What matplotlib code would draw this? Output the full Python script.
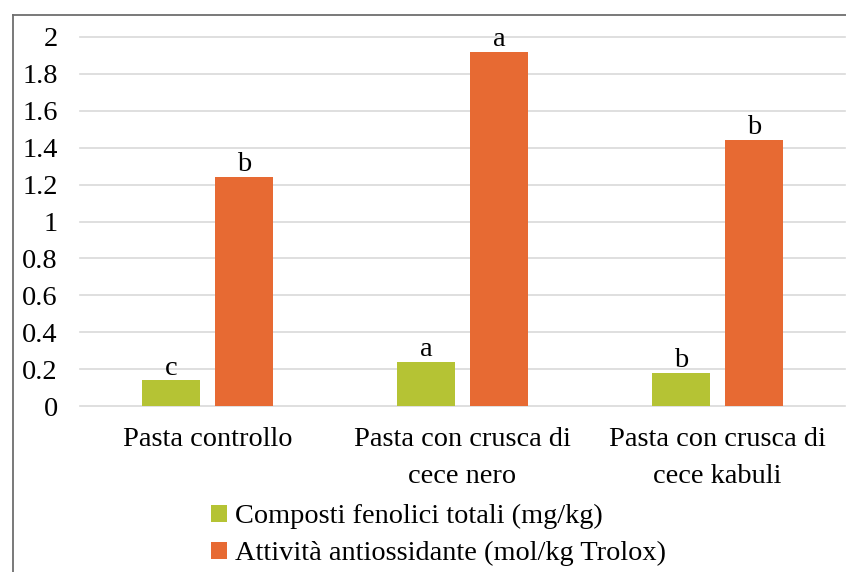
import matplotlib
matplotlib.use("Agg")
import matplotlib.pyplot as plt
import numpy as np
from matplotlib.lines import Line2D

plt.rcParams['font.family'] = ['Liberation Serif', 'DejaVu Serif']

categories = ["Pasta controllo", "Pasta con crusca di\ncece nero", "Pasta con crusca di\ncece kabuli"]
series_names = ["Composti fenolici totali (mg/kg)", "Attività antiossidante (mol/kg Trolox)"]
fenolici = [0.14, 0.24, 0.18]
antiossidante = [1.24, 1.92, 1.44]
letters_fenolici = ["c", "a", "b"]
letters_antiossidante = ["b", "a", "b"]
yticks = [0, 0.2, 0.4, 0.6, 0.8, 1, 1.2, 1.4, 1.6, 1.8, 2]
ytick_labels = ["0", "0.2", "0.4", "0.6", "0.8", "1", "1.2", "1.4", "1.6", "1.8", "2"]

green = "#B5C334"
orange = "#E76A33"
FS = 20.4

fig = plt.figure(figsize=(8.46, 5.72), dpi=100)
ax = fig.add_axes([80/846, 1-406/572, 765/846, (406-37)/572])

x = np.arange(len(categories))
w = 0.224
off = 0.143
b1 = ax.bar(x - off, fenolici, w, color=green, label=series_names[0], zorder=3)
b2 = ax.bar(x + off, antiossidante, w, color=orange, label=series_names[1], zorder=3)

for rect, t in zip(b1, letters_fenolici):
    ax.annotate(t, (rect.get_x() + rect.get_width()/2, rect.get_height()),
                xytext=(0, -0.5), textcoords="offset points", ha="center", va="bottom", fontsize=FS)
for rect, t in zip(b2, letters_antiossidante):
    ax.annotate(t, (rect.get_x() + rect.get_width()/2, rect.get_height()),
                xytext=(0, 0), textcoords="offset points", ha="center", va="bottom", fontsize=FS)

ax.set_xlim(-0.5, 2.5)
ax.set_ylim(0, 2)
ax.set_yticks(yticks)
ax.set_yticklabels(ytick_labels, fontsize=FS)
ax.set_xticks(x)
ax.set_xticklabels(categories, fontsize=FS, linespacing=1.62)
ax.tick_params(axis='y', length=0, pad=16)
ax.tick_params(axis='x', length=0, pad=15)
for s in ax.spines.values():
    s.set_visible(False)
ax.yaxis.grid(True, color="#D9D9D9", linewidth=1.2, zorder=0)
for gl in ax.get_ygridlines():
    gl.set_clip_on(False)
ax.set_axisbelow(True)

leg = fig.legend(handles=[b1, b2], loc="upper left", bbox_to_anchor=(211/846, 1-504/572),
                 frameon=False, fontsize=FS, handlelength=0.55, handleheight=0.55,
                 handletextpad=0.3, labelspacing=0.42, borderaxespad=0, borderpad=0)

# outer chart border (cropped)
fig.add_artist(Line2D([13/846, 1.0], [1-15/572, 1-15/572], color="#6E6E6E", linewidth=1.3, transform=fig.transFigure))
fig.add_artist(Line2D([13/846, 13/846], [0, 1-15/572], color="#6E6E6E", linewidth=1.3, transform=fig.transFigure))

fig.savefig("out.png", dpi=100)
